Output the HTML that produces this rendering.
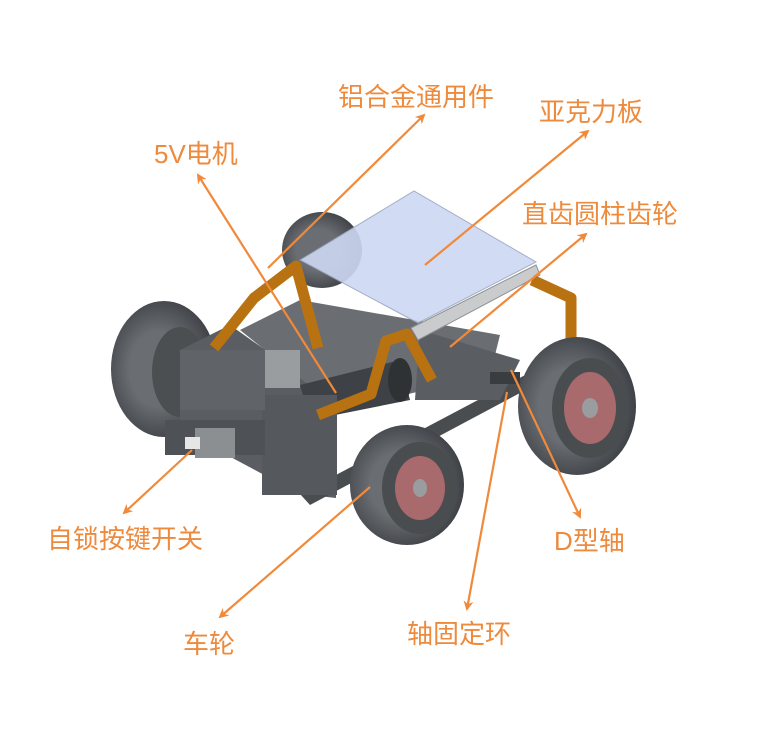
<!DOCTYPE html>
<html><head><meta charset="utf-8"><style>
html,body{margin:0;padding:0;background:#fff;width:764px;height:736px;overflow:hidden}
svg{display:block}
text{font-family:"Liberation Sans","Noto Sans CJK SC",sans-serif;fill:#ee8a3c;font-size:26px}
</style></head><body>
<svg width="764" height="736" viewBox="0 0 764 736">
<defs>
<marker id="a" markerWidth="10" markerHeight="10" refX="8" refY="5" orient="auto" markerUnits="userSpaceOnUse">
<path d="M0,0 L10,5 L0,10 L3,5 Z" fill="#f08a3a"/></marker>
<radialGradient id="tire" cx="0.45" cy="0.5" r="0.55"><stop offset="0.5" stop-color="#6a6e72"/><stop offset="1" stop-color="#3e4246"/></radialGradient>
</defs>
<ellipse cx="322" cy="250" rx="40" ry="38" fill="url(#tire)"/>
<ellipse cx="164" cy="369" rx="53" ry="68" fill="url(#tire)"/>
<ellipse cx="180" cy="372" rx="28" ry="45" fill="#4c4f52"/>
<polygon points="180,350 230,325 336,400 336,498 300,494 180,430" fill="#5a5d61"/>
<polygon points="300,494 529,373 535,385 310,505" fill="#4a4d50"/>
<polygon points="240,330 300,300 500,335 490,375 340,410" fill="#6a6d71"/>
<rect x="232" y="350" width="68" height="38" fill="#9a9da0"/>
<polygon points="300,385 400,360 410,400 310,420" fill="#3e4145"/>
<ellipse cx="400" cy="380" rx="12" ry="22" fill="#2f3235"/>
<rect x="262" y="395" width="75" height="100" fill="#55585c"/>
<rect x="180" y="350" width="85" height="60" fill="#606367"/>
<rect x="165" y="420" width="100" height="35" fill="#4e5155"/>
<rect x="195" y="428" width="40" height="30" fill="#8c8f92"/>
<rect x="185" y="437" width="15" height="12" fill="#e6e6e6"/>
<polygon points="420,330 520,360 500,400 415,400" fill="#5a5d61"/>
<rect x="490" y="372" width="30" height="12" fill="#3a3d40"/>
<polygon points="300,260 414,191 536,262 418,323" fill="#cdd8f2" stroke="#9aa6c2" stroke-width="1" opacity="0.9"/>
<polygon points="411,328 536,265 540,275 418,340" fill="#c9cbcd" stroke="#8f9295"/>
<polyline points="214,348 254,298 296,266 318,348" fill="none" stroke="#b87212" stroke-width="11" stroke-linejoin="round"/>
<polyline points="318,415 371,394 386,341 407,334 432,380" fill="none" stroke="#b87212" stroke-width="11" stroke-linejoin="round"/>
<polyline points="532,280 571,298 571,341" fill="none" stroke="#b87212" stroke-width="11" stroke-linejoin="round"/>
<ellipse cx="577" cy="406" rx="59" ry="69" fill="url(#tire)"/>
<ellipse cx="590" cy="408" rx="38" ry="50" fill="#4a4d50"/>
<ellipse cx="590" cy="408" rx="26" ry="36" fill="#a86a6c"/>
<ellipse cx="590" cy="408" rx="8" ry="10" fill="#9a9da0"/>
<ellipse cx="407" cy="485" rx="57" ry="60" fill="url(#tire)"/>
<ellipse cx="420" cy="488" rx="38" ry="46" fill="#4a4d50"/>
<ellipse cx="420" cy="488" rx="25" ry="32" fill="#a86a6c"/>
<ellipse cx="420" cy="488" rx="7" ry="9" fill="#9a9da0"/>
<g stroke="#f08a3a" stroke-width="2.2" fill="none" marker-end="url(#a)">
<line x1="268" y1="268" x2="424" y2="115"/>
<line x1="425" y1="265" x2="588" y2="131"/>
<line x1="336" y1="393" x2="198" y2="175"/>
<line x1="450" y1="347" x2="586" y2="234"/>
<line x1="192" y1="450" x2="124" y2="513"/>
<line x1="370" y1="487" x2="220" y2="617"/>
<line x1="507" y1="392" x2="467" y2="609"/>
<line x1="511" y1="370" x2="580" y2="517"/>
</g>
<text x="338" y="106">铝合金通用件</text>
<text x="539" y="121">亚克力板</text>
<text x="154" y="163">5V电机</text>
<text x="522" y="223">直齿圆柱齿轮</text>
<text x="47" y="548">自锁按键开关</text>
<text x="554" y="550">D型轴</text>
<text x="407" y="643">轴固定环</text>
<text x="183" y="653">车轮</text>
</svg>
</body></html>
